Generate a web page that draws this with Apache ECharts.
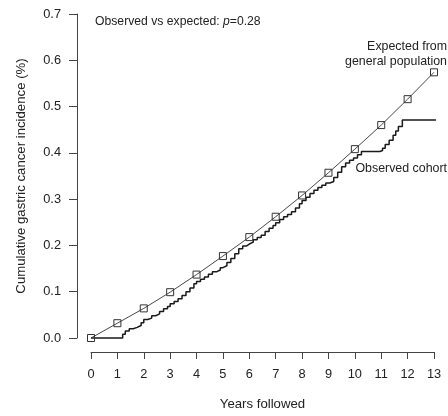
<!DOCTYPE html>
<html>
<head>
<meta charset="utf-8">
<script src="https://cdn.jsdelivr.net/npm/echarts@6/dist/echarts.min.js"></script>
<style>
html,body{margin:0;padding:0;background:#fff;}
#c{width:448px;height:416px;}
</style>
</head>
<body>
<div id="c"></div>
<script>
// Years on the x axis
var years = [0,1,2,3,4,5,6,7,8,9,10,11,12,13];
// Expected cumulative incidence from general population (%), at each year
var expected = [0,0.032,0.064,0.099,0.137,0.177,0.218,0.262,0.308,0.357,0.408,0.460,0.516,0.574];
// Observed cohort (Kaplan-Meier style step curve): event times and values
var obsTimes = [0,1.1,1.2,1.3,1.45,1.6,1.75,1.9,2.0,2.15,2.3,2.45,2.6,2.75,2.9,3.0,3.15,3.3,3.45,3.6,3.75,3.9,4.0,4.15,4.3,4.45,4.6,4.75,4.9,5.0,5.15,5.3,5.45,5.6,5.75,5.9,6.0,6.15,6.3,6.45,6.6,6.75,6.9,7.0,7.15,7.3,7.45,7.6,7.75,7.9,8.0,8.15,8.3,8.45,8.6,8.75,8.9,9.05,9.2,9.35,9.5,9.65,9.8,9.95,10.1,10.25,10.95,11.05,11.15,11.3,11.45,11.55,11.65,11.8,13.15];
var obsValues = [0,0,0.008,0.015,0.02,0.023,0.027,0.033,0.04,0.043,0.048,0.052,0.057,0.063,0.068,0.074,0.079,0.085,0.092,0.1,0.108,0.117,0.122,0.127,0.132,0.138,0.143,0.147,0.152,0.156,0.163,0.172,0.182,0.193,0.199,0.203,0.207,0.212,0.217,0.222,0.23,0.237,0.243,0.249,0.256,0.262,0.267,0.273,0.281,0.29,0.297,0.304,0.312,0.319,0.325,0.33,0.335,0.338,0.347,0.358,0.37,0.378,0.384,0.389,0.396,0.403,0.405,0.41,0.418,0.427,0.438,0.447,0.457,0.471,0.471];
// Tick labels
var yTicks = [0,0.1,0.2,0.3,0.4,0.5,0.6,0.7];
var xTicks = years;

var expData = years.map(function(y,i){return [y, expected[i]];});
var obsData = obsTimes.map(function(t,i){return [t, obsValues[i]];});

var chart = echarts.init(document.getElementById('c'), null, {renderer:'canvas'});
var axisColor = '#444';
var txt = '#222';
var FF = '"Liberation Sans", Arial, Helvetica, sans-serif';
chart.setOption({
  animation:false,
  backgroundColor:'#fff',
  textStyle:{fontFamily:FF},
  title:{
    text:'Observed vs expected: {i|p}=0.28',
    left:95, top:16, padding:0,
    textStyle:{fontSize:12.2, fontWeight:'normal', color:txt, fontFamily:FF,
      rich:{i:{fontStyle:'italic', fontSize:12.2, color:txt, fontFamily:FF}}}
  },
  grid:{left:91, right:14, top:14, bottom:73, containLabel:false},
  xAxis:{
    type:'value', min:0, max:13, interval:1, offset:14,
    name:'Years followed', nameLocation:'middle', nameGap:46,
    nameTextStyle:{fontSize:13.2, color:txt, fontFamily:FF},
    axisLine:{show:true, onZero:false, lineStyle:{color:axisColor, width:1}},
    axisTick:{show:true, length:7, lineStyle:{color:axisColor}, customValues:xTicks},
    axisLabel:{fontSize:12.8, color:txt, margin:16, fontFamily:FF, customValues:xTicks},
    splitLine:{show:false}
  },
  yAxis:{
    type:'value', min:0, max:0.7, interval:0.1, offset:14,
    name:'Cumulative gastric cancer incidence (%)', nameLocation:'middle', nameGap:49,
    nameTextStyle:{fontSize:13.2, color:txt, fontFamily:FF},
    axisLine:{show:true, onZero:false, lineStyle:{color:axisColor, width:1}},
    axisTick:{show:true, length:8, lineStyle:{color:axisColor}, customValues:yTicks},
    axisLabel:{fontSize:12.8, color:txt, margin:16, fontFamily:FF, customValues:yTicks,
      formatter:function(v){return v.toFixed(1);}},
    splitLine:{show:false}
  },
  graphic:[
    {type:'text', right:1, top:41, style:{text:'Expected from', fill:txt, fontSize:12.4, fontFamily:FF}},
    {type:'text', right:1, top:56, style:{text:'general population', fill:txt, fontSize:12.4, fontFamily:FF}},
    {type:'text', right:1, top:163, style:{text:'Observed cohort', fill:txt, fontSize:12.4, fontFamily:FF}}
  ],
  series:[
    {
      type:'line', data:obsData, step:'end', symbol:'none', clip:false,
      lineStyle:{color:'#1a1a1a', width:1.5}, z:2
    },
    {
      type:'line', data:expData, symbol:'rect', symbolSize:7, clip:false,
      lineStyle:{color:'#333', width:0.9},
      itemStyle:{color:'rgba(0,0,0,0)', borderColor:'#333', borderWidth:1}, z:3
    }
  ]
});
</script>
</body>
</html>
